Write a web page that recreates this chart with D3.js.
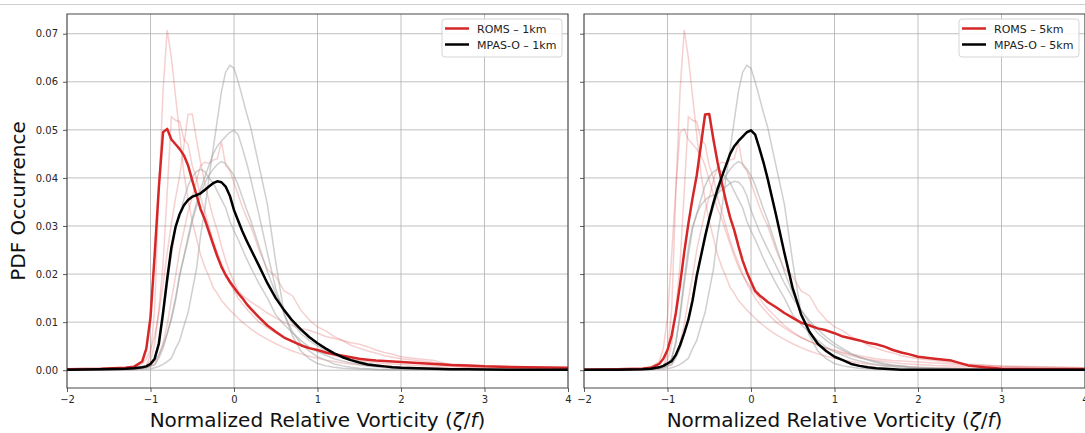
<!DOCTYPE html>
<html>
<head>
<meta charset="utf-8">
<script src="https://cdnjs.cloudflare.com/ajax/libs/d3/7.8.5/d3.min.js"></script>
<style>
  body { margin: 0; background: #fff; }
  svg { display: block; font-family: "DejaVu Sans", sans-serif; }
</style>
</head>
<body>
<svg id="chart" width="1085" height="433"></svg>
<script>
"use strict";

// shared vorticity grid (zeta / f)
const vort = [
  -2.0, -1.6, -1.3, -1.2, -1.1, -1.05,
  -1.0, -0.95, -0.9, -0.85, -0.8, -0.75, -0.7, -0.65, -0.6, -0.55,
  -0.5, -0.45, -0.4, -0.35, -0.3, -0.25, -0.2, -0.15, -0.1, -0.05,
  0.0, 0.05, 0.1, 0.15, 0.2,
  0.3, 0.4, 0.5, 0.6, 0.7, 0.8, 0.9, 1.0,
  1.1, 1.2, 1.3, 1.4, 1.5, 1.6, 1.7, 1.8, 1.9, 2.0,
  2.2, 2.4, 2.6, 2.8, 3.0, 3.5, 4.0
];

const roms1km = [
  0.0002, 0.0003, 0.0005, 0.0007, 0.0018, 0.0045,
  0.011, 0.024, 0.038, 0.0495, 0.0502, 0.048, 0.047, 0.046, 0.0447, 0.0426,
  0.0395, 0.0365, 0.0335, 0.0314, 0.0288, 0.0262, 0.0237, 0.0215, 0.0198, 0.0184,
  0.0172, 0.016, 0.015, 0.0138, 0.0128,
  0.011, 0.0093, 0.008, 0.0068, 0.006, 0.0052, 0.0046, 0.0042,
  0.0037, 0.0033, 0.003, 0.0027, 0.0024, 0.0022, 0.002, 0.0019, 0.0018, 0.0017,
  0.0015, 0.0013, 0.0011, 0.001, 0.0008, 0.0006, 0.0005
];

const mpas1km = [
  0.0001, 0.0002, 0.0003, 0.0004, 0.0006, 0.0008,
  0.0013, 0.0024, 0.0055, 0.0119, 0.019, 0.0255, 0.0298, 0.0325, 0.0343, 0.0354,
  0.0361, 0.0364, 0.0368, 0.0375, 0.0382, 0.0389, 0.0393, 0.0391, 0.0382, 0.0363,
  0.0333, 0.0311, 0.0289, 0.027, 0.0252,
  0.0217, 0.0181, 0.015, 0.0125, 0.0103, 0.0085, 0.0069, 0.0056,
  0.0045, 0.0035, 0.0027, 0.0021, 0.0016, 0.0012, 0.001, 0.0008, 0.0006, 0.0005,
  0.0004, 0.0003, 0.0002, 0.0002, 0.00015, 0.0001, 0.0001
];

const roms5km = [
  0.0001, 0.0002, 0.0003, 0.0005, 0.0013, 0.0024,
  0.0042, 0.0072, 0.0119, 0.0178, 0.0245, 0.0305, 0.0358, 0.0405, 0.0468, 0.0532,
  0.0533, 0.048, 0.0432, 0.039, 0.0352, 0.0318, 0.0291, 0.0258, 0.0228, 0.0204,
  0.0184, 0.0165, 0.0156, 0.0149, 0.0142,
  0.0131, 0.0119, 0.0109, 0.0099, 0.0093, 0.0087, 0.0083, 0.0077,
  0.007, 0.0066, 0.0062, 0.0057, 0.0054, 0.0049, 0.0042, 0.0037, 0.0033, 0.0028,
  0.0024, 0.002, 0.001, 0.0006, 0.0003, 0.0002, 0.0002
];

const mpas5km = [
  0.0001, 0.0001, 0.0002, 0.0003, 0.0006, 0.0009,
  0.0014, 0.0019, 0.0032, 0.0052, 0.0077, 0.0105, 0.0145, 0.0196, 0.0237, 0.0278,
  0.0315, 0.0348, 0.0377, 0.0402, 0.0426, 0.045, 0.0466, 0.0477, 0.0486, 0.0495,
  0.0499, 0.049, 0.0462, 0.0432, 0.0398,
  0.0323, 0.0244, 0.017, 0.0116, 0.008, 0.0055, 0.004, 0.0028,
  0.0021, 0.0013, 0.0009, 0.0006, 0.0004, 0.0003, 0.0002, 0.0001, 0.0001, 0.0001,
  0.0001, 0.0001, 0.0001, 0.0001, 0.0001, 0.0001, 0.0001
];

// other runs, drawn faint in both panels
const romsA = [
  0.0001, 0.0001, 0.0002, 0.0003, 0.0005, 0.0008,
  0.0035, 0.0126, 0.037, 0.058, 0.0708, 0.065, 0.057, 0.049, 0.041, 0.0355,
  0.031, 0.0275, 0.024, 0.0215, 0.0195, 0.0172, 0.016, 0.0145, 0.0135, 0.0125,
  0.0117, 0.0108, 0.01, 0.0093, 0.0086,
  0.0074, 0.0064, 0.0055, 0.0047, 0.004, 0.0034, 0.0029, 0.0025,
  0.0021, 0.0018, 0.0015, 0.0013, 0.0011, 0.001, 0.0009, 0.0008, 0.0007, 0.0006,
  0.0005, 0.0005, 0.0004, 0.0004, 0.0003, 0.0003, 0.0003
];

const romsB = [
  0.0001, 0.0001, 0.0002, 0.0003, 0.0006, 0.001,
  0.002, 0.0055, 0.0125, 0.022, 0.037, 0.0527, 0.052, 0.0517, 0.048, 0.047,
  0.0425, 0.04, 0.036, 0.033, 0.03, 0.027, 0.0245, 0.0222, 0.02, 0.018,
  0.0165, 0.015, 0.0138, 0.0128, 0.0118,
  0.01, 0.0088, 0.0077, 0.0068, 0.006, 0.0053, 0.0046, 0.004,
  0.0035, 0.003, 0.0026, 0.0023, 0.002, 0.0018, 0.0016, 0.0014, 0.0013, 0.0012,
  0.001, 0.0009, 0.0008, 0.0007, 0.0006, 0.0005, 0.0004
];

const romsC = [
  0.0001, 0.0001, 0.0001, 0.0002, 0.0003, 0.0005,
  0.0008, 0.0012, 0.003, 0.0056, 0.0095, 0.0147, 0.0195, 0.025, 0.029, 0.033,
  0.036, 0.0395, 0.0425, 0.0433, 0.043, 0.0437, 0.044, 0.0475, 0.0426, 0.0415,
  0.039, 0.0365, 0.034, 0.0318, 0.03,
  0.025, 0.021, 0.0195, 0.0165, 0.0155, 0.0125, 0.0105, 0.009,
  0.0082, 0.007, 0.0062, 0.0052, 0.0046, 0.004, 0.0036, 0.003, 0.0027, 0.0024,
  0.002, 0.0016, 0.0013, 0.0011, 0.0009, 0.0007, 0.0005
];

const mpasA = [
  0.0001, 0.0001, 0.0001, 0.0001, 0.0002, 0.0002,
  0.0003, 0.0005, 0.0008, 0.0012, 0.0018, 0.0025, 0.0045, 0.0062, 0.0092, 0.012,
  0.0165, 0.021, 0.028, 0.0335, 0.04, 0.046, 0.052, 0.058, 0.062, 0.0634,
  0.0628, 0.06, 0.0568, 0.0535, 0.0505,
  0.0425, 0.0345, 0.0225, 0.0118, 0.0072, 0.004, 0.0024, 0.0014,
  0.0009, 0.0006, 0.0004, 0.0003, 0.0002, 0.0002, 0.0001, 0.0001, 0.0001, 0.0001,
  0.0001, 0.0001, 0.0001, 0.0001, 0.0001, 0.0001, 0.0001
];

const mpasB = [
  0.0001, 0.0001, 0.0002, 0.0003, 0.0005, 0.0007,
  0.0009, 0.0011, 0.0025, 0.0045, 0.0075, 0.011, 0.015, 0.02, 0.0235, 0.027,
  0.031, 0.034, 0.0365, 0.039, 0.0405, 0.0418, 0.0428, 0.0434, 0.043, 0.0418,
  0.0405, 0.0385, 0.036, 0.0335, 0.0312,
  0.0258, 0.0205, 0.016, 0.0125, 0.0098, 0.0077, 0.0062, 0.005,
  0.0041, 0.0033, 0.0027, 0.0022, 0.0018, 0.0014, 0.0011, 0.0009, 0.0007, 0.0006,
  0.0004, 0.0003, 0.0002, 0.0002, 0.0001, 0.0001, 0.0001
];

const mpasC = [
  0.0001, 0.0001, 0.0002, 0.0003, 0.0004, 0.0005,
  0.0007, 0.0025, 0.006, 0.011, 0.0178, 0.024, 0.0295, 0.0325, 0.0355, 0.0384,
  0.0402, 0.0413, 0.0418, 0.0413, 0.04, 0.039, 0.0372, 0.0355, 0.0338, 0.031,
  0.029, 0.0272, 0.0252, 0.0232, 0.0214,
  0.018, 0.015, 0.0115, 0.0095, 0.0078, 0.0062, 0.0048, 0.0038,
  0.0031, 0.0024, 0.0019, 0.0015, 0.0012, 0.0009, 0.0007, 0.0005, 0.0004, 0.0003,
  0.0002, 0.0002, 0.0001, 0.0001, 0.0001, 0.0001, 0.0001
];

const xTicks = [-2, -1, 0, 1, 2, 3, 4];
const yTicks = [0, 0.01, 0.02, 0.03, 0.04, 0.05, 0.06, 0.07];

const panels = [
  {
    left: 67, right: 568, yLabels: true,
    romsBold: roms1km, mpasBold: mpas1km,
    romsFaint: [romsA, romsB, romsC, roms5km],
    mpasFaint: [mpasA, mpasB, mpasC, mpas5km],
    legend: ["ROMS \u2013 1km", "MPAS-O \u2013 1km"]
  },
  {
    left: 584, right: 1085, yLabels: false,
    romsBold: roms5km, mpasBold: mpas5km,
    romsFaint: [romsA, romsB, romsC, roms1km],
    mpasFaint: [mpasA, mpasB, mpasC, mpas1km],
    legend: ["ROMS \u2013 5km", "MPAS-O \u2013 5km"]
  }
];

const RED = "#d62728";
const svg = d3.select("#chart");
const plotTop = 14, plotBottom = 388;

// thin rule along the top edge of the figure
svg.append("line")
  .attr("x1", 0).attr("x2", 1085).attr("y1", 4.5).attr("y2", 4.5)
  .attr("stroke", "#cfcfcf").attr("stroke-width", 1);

const y = d3.scaleLinear().domain([-0.0037, 0.0741]).range([plotBottom, plotTop]);

panels.forEach((p, i) => {
  const x = d3.scaleLinear().domain([-2, 4]).range([p.left, p.right]);
  const g = svg.append("g");

  g.append("clipPath").attr("id", "clip" + i)
    .append("rect")
    .attr("x", p.left).attr("y", plotTop)
    .attr("width", p.right - p.left).attr("height", plotBottom - plotTop);

  // grid
  g.append("g").selectAll("line").data(xTicks).join("line")
    .attr("x1", (d) => x(d)).attr("x2", (d) => x(d))
    .attr("y1", plotTop).attr("y2", plotBottom)
    .attr("stroke", "#b0b0b0").attr("stroke-width", 0.8);
  g.append("g").selectAll("line").data(yTicks).join("line")
    .attr("x1", p.left).attr("x2", p.right)
    .attr("y1", (d) => y(d)).attr("y2", (d) => y(d))
    .attr("stroke", "#b0b0b0").attr("stroke-width", 0.8);

  const line = d3.line()
    .defined((d) => d[1] !== undefined)
    .x((d) => x(d[0])).y((d) => y(d[1]));
  const pts = (ys) => vort.map((v, k) => [v, ys[k]]);

  const curves = g.append("g").attr("clip-path", "url(#clip" + i + ")");

  p.romsFaint.forEach((ys) => {
    curves.append("path").attr("d", line(pts(ys)))
      .attr("fill", "none").attr("stroke", RED)
      .attr("stroke-opacity", 0.22).attr("stroke-width", 1.5);
  });
  p.mpasFaint.forEach((ys) => {
    curves.append("path").attr("d", line(pts(ys)))
      .attr("fill", "none").attr("stroke", "#a0a0a0")
      .attr("stroke-opacity", 0.5).attr("stroke-width", 1.5);
  });

  curves.append("path").attr("d", line(pts(p.romsBold)))
    .attr("fill", "none").attr("stroke", RED)
    .attr("stroke-width", 2.5).attr("stroke-linejoin", "round");
  curves.append("path").attr("d", line(pts(p.mpasBold)))
    .attr("fill", "none").attr("stroke", "#000")
    .attr("stroke-width", 2.5).attr("stroke-linejoin", "round");

  // axes
  const xAxis = d3.axisBottom(x).tickValues(xTicks)
    .tickFormat(d3.format("d")).tickSize(4).tickPadding(4);
  const yAxis = d3.axisLeft(y).tickValues(yTicks).tickSize(4).tickPadding(5)
    .tickFormat(p.yLabels ? d3.format(".2f") : () => "");

  const gx = g.append("g").attr("transform", "translate(0," + plotBottom + ")").call(xAxis);
  const gy = g.append("g").attr("transform", "translate(" + p.left + ",0)").call(yAxis);
  [gx, gy].forEach((a) => {
    a.select(".domain").remove();
    a.selectAll(".tick line").attr("stroke", "#333").attr("stroke-width", 0.8);
    a.selectAll(".tick text").attr("fill", "#262626")
      .style("font-size", "10px").style("font-family", "DejaVu Sans");
  });

  g.append("rect")
    .attr("x", p.left).attr("y", plotTop)
    .attr("width", p.right - p.left).attr("height", plotBottom - plotTop)
    .attr("fill", "none").attr("stroke", "#333").attr("stroke-width", 0.9);

  // x label
  const xl = g.append("text")
    .attr("x", (p.left + p.right) / 2).attr("y", 427)
    .attr("text-anchor", "middle")
    .style("font-size", "20px").attr("fill", "#111");
  xl.append("tspan").text("Normalized Relative Vorticity (");
  xl.append("tspan").attr("font-style", "italic").text("\u03b6");
  xl.append("tspan").text("/");
  xl.append("tspan").attr("font-style", "italic").text("f");
  xl.append("tspan").text(")");

  // legend
  const lx = p.right - 126, ly = 19;
  const leg = g.append("g");
  leg.append("rect")
    .attr("x", lx).attr("y", ly).attr("width", 120).attr("height", 38)
    .attr("rx", 3).attr("fill", "#fff").attr("fill-opacity", 0.85)
    .attr("stroke", "#d0d0d0").attr("stroke-width", 0.9);
  [RED, "#000"].forEach((c, k) => {
    const yy = ly + 9.5 + k * 16;
    leg.append("line")
      .attr("x1", lx + 3).attr("x2", lx + 27).attr("y1", yy).attr("y2", yy)
      .attr("stroke", c).attr("stroke-width", 2.5);
    leg.append("text")
      .attr("x", lx + 35).attr("y", yy + 4)
      .style("font-size", "11px").attr("fill", "#222")
      .text(p.legend[k]);
  });
});

svg.append("text")
  .attr("transform", "translate(25," + (plotTop + plotBottom) / 2 + ") rotate(-90)")
  .attr("text-anchor", "middle")
  .style("font-size", "20px").attr("fill", "#111")
  .text("PDF Occurrence");
</script>
</body>
</html>
